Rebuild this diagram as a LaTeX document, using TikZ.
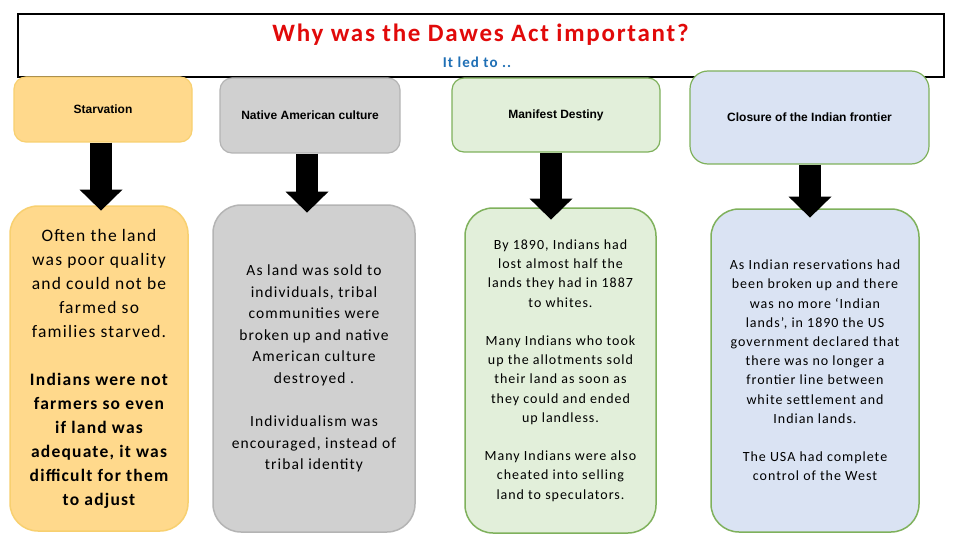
\documentclass[tikz,border=0pt]{standalone}
\usepackage{fontspec}
\setmainfont{Carlito}[LetterSpace=7]
\newfontfamily\hdrfont{Liberation Sans}
\usetikzlibrary{arrows.meta}
\definecolor{titlered}{HTML}{E10A0A}
\definecolor{subblue}{HTML}{1F6FB5}
\definecolor{orfill}{HTML}{FFD98C}
\definecolor{ordraw}{HTML}{F8D070}
\definecolor{gyfill}{HTML}{D0D0D0}
\definecolor{gydraw}{HTML}{B4B4B4}
\definecolor{grfill}{HTML}{E2EFDA}
\definecolor{grdraw}{HTML}{7FB15C}
\definecolor{blfill}{HTML}{DAE3F3}
\begin{document}
\begin{tikzpicture}[x=1pt,y=-1pt,
  topbox/.style={draw, rounded corners=12pt, line width=1.2pt, inner sep=0pt, align=center,
    font=\hdrfont\bfseries\fontsize{12}{14}\selectfont},
  lowbox/.style={draw, rounded corners=28pt, line width=1.5pt, inner sep=0pt, align=center},
  bigarrow/.style={line width=22pt, -{Triangle[width=43pt,length=21pt,line width=0pt]}},
]
\useasboundingbox (0,0) rectangle (960,540);
\fill[white] (0,0) rectangle (960,540);
% header
\node[draw, line width=2pt, minimum width=926pt, minimum height=63pt, inner sep=0pt] (hdr) at (481,45.5) {};
\node[text=titlered, font=\fontsize{25}{28}\selectfont\bfseries] (title) at (480.5,35) {Why was the Dawes Act important?};
\node[text=subblue, font=\fontsize{15}{18}\selectfont\bfseries] (sub) at (477,62) {It led to ..};
% top boxes
\node[topbox, fill=orfill, draw=ordraw, minimum width=178pt, minimum height=65pt] (s1) at (103,109.5) {Starvation};
\node[topbox, fill=gyfill, draw=gydraw, minimum width=180pt, minimum height=75pt] (s2) at (310,115.5) {Native American culture};
\node[topbox, fill=grfill, draw=grdraw, minimum width=208pt, minimum height=74pt] (s3) at (556,115) {Manifest Destiny};
\node[topbox, fill=blfill, draw=grdraw, rounded corners=18pt, minimum width=239pt, minimum height=93pt] (s4) at (809.5,117.5) {Closure of the Indian frontier};
% lower boxes
\node[lowbox, fill=orfill, draw=ordraw, minimum width=178pt, minimum height=325pt,
  font=\fontsize{17.5}{24}\selectfont] (d1) at (99,368.5)
  {Often the land\\was poor quality\\and could not be\\farmed so\\families starved.\\[24pt]
   \bfseries Indians were not\\\bfseries farmers so even\\\bfseries if land was\\\bfseries adequate, it was\\\bfseries difficult for them\\\bfseries to adjust};
\node[lowbox, fill=gyfill, draw=gydraw, minimum width=202pt, minimum height=327pt,
  font=\fontsize{15.5}{21.6}\selectfont] (d2) at (314,368.5)
  {As land was sold to\\individuals, tribal\\communities were\\broken up and native\\American culture\\destroyed .\\[21.6pt]
   Individualism was\\encouraged, instead of\\tribal identity};
\node[lowbox, fill=grfill, draw=grdraw, minimum width=191pt, minimum height=325pt,
  font=\fontsize{14}{19.2}\selectfont] (d3) at (560.5,370.5)
  {By 1890, Indians had\\lost almost half the\\lands they had in 1887\\to whites.\\[19.2pt]
   Many Indians who took\\up the allotments sold\\their land as soon as\\they could and ended\\up landless.\\[19.2pt]
   Many Indians were also\\cheated into selling\\land to speculators.};
\node[lowbox, fill=blfill, draw=grdraw, minimum width=208pt, minimum height=323pt,
  font=\fontsize{14}{19.2}\selectfont] (d4) at (815,370.5)
  {As Indian reservations had\\been broken up and there\\was no more ‘Indian\\lands’, in 1890 the US\\government declared that\\there was no longer a\\frontier line between\\white settlement and\\Indian lands.\\[19.2pt]
   The USA had complete\\control of the West};
% arrows
\draw[bigarrow] ([xshift=-2pt]s1.south) -- ++(0,68);
\draw[bigarrow] ([xshift=-3pt]s2.south) -- ++(0,59);
\draw[bigarrow] ([xshift=-5pt]s3.south) -- ++(0,67);
\draw[bigarrow] ([xshift=0.5pt]s4.south) -- ++(0,53);
\end{tikzpicture}
\end{document}
